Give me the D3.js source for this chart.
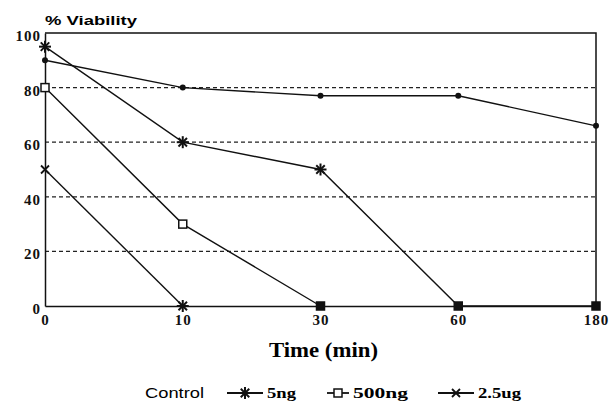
<!DOCTYPE html>
<html>
<head>
<meta charset="utf-8">
<script src="https://cdn.jsdelivr.net/npm/d3@7"></script>
<style>
  body { margin: 0; background: #fff; }
  svg { display: block; }
  .tick text { font-family: "Liberation Serif", serif; font-weight: bold; font-size: 15px; fill: #111; letter-spacing: 1px; }
</style>
</head>
<body>
<svg width="609" height="403"></svg>
<script>
// time points (categorical, evenly spaced in the original)
const times = ["0", "10", "30", "60", "180"];
const yTicks = [0, 20, 40, 60, 80, 100];

const control = [90, 80, 77, 77, 66];
const ng5 = [95, 60, 50, 0, 0];
const ng500 = [80, 30, 0, null, null];
const ug25 = [50, 0, null, null, null];

const series = [
  { name: "Control", values: control, mark: "dot" },
  { name: "5ng", values: ng5, mark: "star" },
  { name: "500ng", values: ng500, mark: "square" },
  { name: "2.5ug", values: ug25, mark: "cross" }
];

const svg = d3.select("svg");
const plotL = 45, plotR = 596, plotT = 33, plotB = 306;

const x = d3.scalePoint().domain(times).range([plotL, plotR]);
const y = d3.scaleLinear().domain([0, 100]).range([plotB, plotT]);

// dashed gridlines
svg.append("g")
  .selectAll("line")
  .data(yTicks.filter(d => d > 0 && d < 100))
  .enter().append("line")
  .attr("x1", plotL).attr("x2", plotR)
  .attr("y1", d => y(d)).attr("y2", d => y(d))
  .attr("stroke", "#222").attr("stroke-width", 1.2)
  .attr("stroke-dasharray", "4,3");

// frame top / right
svg.append("path")
  .attr("d", `M${plotL},${plotT}H${plotR}V${plotB}`)
  .attr("fill", "none").attr("stroke", "#111").attr("stroke-width", 1.5);

const yAxis = svg.append("g")
  .attr("transform", `translate(${plotL},0)`)
  .call(d3.axisLeft(y).tickValues(yTicks).tickSize(0).tickPadding(4));
yAxis.select(".domain").attr("stroke", "#111").attr("stroke-width", 1.5);
yAxis.selectAll(".tick text").attr("dy", "0.5em");

const xAxis = svg.append("g")
  .attr("transform", `translate(0,${plotB})`)
  .call(d3.axisBottom(x).tickSize(0).tickPadding(10));
xAxis.select(".domain").attr("stroke", "#111").attr("stroke-width", 1.5);
xAxis.selectAll(".tick text").attr("dy", "0.62em");

// lines
const line = d3.line()
  .defined(d => d.v != null)
  .x(d => x(d.t))
  .y(d => y(d.v));

series.forEach(s => {
  const pts = s.values.map((v, i) => ({ t: times[i], v: v }));
  svg.append("path")
    .datum(pts)
    .attr("d", line)
    .attr("fill", "none")
    .attr("stroke", "#111")
    .attr("stroke-width", 1.4);
});

function drawMark(g, type, cx, cy, filled) {
  if (type === "dot") {
    g.append("circle").attr("cx", cx).attr("cy", cy).attr("r", 3).attr("fill", "#111");
  } else if (type === "square") {
    g.append("rect").attr("x", cx - 4).attr("y", cy - 4).attr("width", 8).attr("height", 8)
      .attr("fill", filled ? "#111" : "#fff").attr("stroke", "#111").attr("stroke-width", 1.5);
  } else if (type === "star") {
    const r = 6;
    [0, 45, 90, 135].forEach(a => {
      const rad = a * Math.PI / 180;
      g.append("line")
        .attr("x1", cx - r * Math.cos(rad)).attr("y1", cy - r * Math.sin(rad))
        .attr("x2", cx + r * Math.cos(rad)).attr("y2", cy + r * Math.sin(rad))
        .attr("stroke", "#111").attr("stroke-width", 2);
    });
  } else if (type === "cross") {
    const r = 4;
    g.append("path")
      .attr("d", `M${cx - r},${cy - r}L${cx + r},${cy + r}M${cx - r},${cy + r}L${cx + r},${cy - r}`)
      .attr("stroke", "#111").attr("stroke-width", 1.8);
  }
}

// markers (points that fell to zero overlap on the axis and read as filled squares)
const marks = svg.append("g");
series.forEach(s => {
  s.values.forEach((v, i) => {
    if (v == null) return;
    let type = s.mark;
    if (v === 0 && s.mark !== "cross") type = "square";
    if (v === 0 && s.mark === "cross") type = "star";
    drawMark(marks, type, x(times[i]), y(v), v === 0);
  });
});

// titles
svg.append("text")
  .attr("x", 45).attr("y", 25)
  .attr("font-family", "Liberation Sans, sans-serif")
  .attr("font-weight", "bold").attr("font-size", 13.5)
  .attr("textLength", 92).attr("lengthAdjust", "spacingAndGlyphs")
  .text("% Viability");

svg.append("text")
  .attr("x", 269).attr("y", 357)
  .attr("font-family", "Liberation Serif, serif")
  .attr("font-weight", "bold").attr("font-size", 22)
  .attr("textLength", 109).attr("lengthAdjust", "spacingAndGlyphs")
  .text("Time (min)");

// legend
const legendItems = [
  { name: "Control", mark: null, x: 145, w: 59 },
  { name: "5ng", mark: "star", x: 227, w: 29 },
  { name: "500ng", mark: "square", x: 327, w: 55 },
  { name: "2.5ug", mark: "cross", x: 438, w: 43 }
];
const ly = 393;
const legend = svg.append("g");
legendItems.forEach(it => {
  let tx = it.x;
  if (it.mark) {
    const lw = it.mark === "square" ? 22 : 36;
    legend.append("line")
      .attr("x1", it.x).attr("x2", it.x + lw).attr("y1", ly).attr("y2", ly)
      .attr("stroke", "#111").attr("stroke-width", 1.8);
    drawMark(legend, it.mark, it.x + lw / 2, ly, false);
    tx = it.x + lw + 4;
  }
  legend.append("text")
    .attr("x", tx).attr("y", ly + 5)
    .attr("font-family", it.mark ? "Liberation Serif, serif" : "Liberation Sans, sans-serif")
    .attr("font-weight", it.mark ? "bold" : "normal")
    .attr("font-size", 14)
    .attr("textLength", it.w).attr("lengthAdjust", "spacingAndGlyphs")
    .text(it.name);
});
</script>
</body>
</html>
